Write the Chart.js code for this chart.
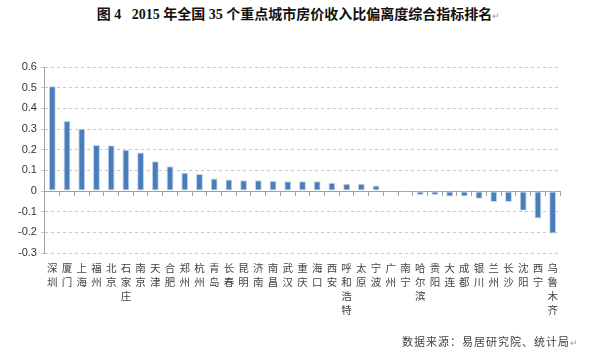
<!DOCTYPE html>
<html>
<head>
<meta charset="utf-8">
<script src="https://cdn.jsdelivr.net/npm/chart.js@4/dist/chart.umd.min.js"></script>
<style>
  html, body { margin: 0; padding: 0; background: #fff; }
  #wrap { position: relative; width: 589px; height: 354px; }
  #biaoti {
    position: absolute; left: 4px; top: 3px; width: 589px; text-align: center;
    font: bold 14px "Liberation Serif", "Noto Sans CJK SC", serif; color: #111;
  }
  #laiyuan {
    position: absolute; right: 10px; top: 333px;
    font: 11px "Noto Sans CJK SC", sans-serif; color: #444; letter-spacing: 1px;
  }
  .isaret { color: #999; font-size: 9px; font-weight: normal; }
  canvas { position: absolute; left: 0; top: 0; }
</style>
</head>
<body>
<div id="wrap">
  <div id="biaoti">图 4&nbsp;&nbsp;&nbsp;2015 年全国 35 个重点城市房价收入比偏离度综合指标排名<span class="isaret">↵</span></div>
  <canvas id="grafik" width="589" height="354"></canvas>
  <div id="laiyuan">数据来源：易居研究院、统计局<span class="isaret">↵</span></div>
</div>
<script>
// sehirler (kategori)
var sehirler = ['深圳', '厦门', '上海', '福州', '北京', '石家庄', '南京', '天津', '合肥', '郑州',
  '杭州', '青岛', '长春', '昆明', '济南', '南昌', '武汉', '重庆', '海口', '西安',
  '呼和浩特', '太原', '宁波', '广州', '南宁', '哈尔滨', '贵阳', '大连', '成都', '银川',
  '兰州', '长沙', '沈阳', '西宁', '乌鲁木齐'];

// sapma endeksi degerleri
var degerler = [0.507, 0.339, 0.301, 0.223, 0.222, 0.200, 0.187, 0.144, 0.120, 0.089,
  0.083, 0.061, 0.056, 0.052, 0.052, 0.049, 0.048, 0.048, 0.048, 0.040,
  0.035, 0.035, 0.027, -0.003, -0.006, -0.019, -0.019, -0.026, -0.026, -0.037,
  -0.053, -0.053, -0.095, -0.132, -0.205];

var yMin = -0.3;
var yMax = 0.6;
var yAdim = 0.1;

// dikey yazi: her karakter ayri satir
var etiketler = sehirler.map(function (s) { return s.split(''); });

var ctx = document.getElementById('grafik').getContext('2d');
var grafik = new Chart(ctx, {
  type: 'bar',
  data: {
    labels: etiketler,
    datasets: [{
      data: degerler,
      backgroundColor: '#4A7EBB',
      borderColor: '#C5D6EC',
      borderWidth: 1,
      borderSkipped: false,
      categoryPercentage: 0.9,
      barPercentage: 0.52,
      xAxisID: 'x'
    }]
  },
  options: {
    responsive: false,
    animation: false,
    layout: { padding: { left: 14, right: 29, top: 67, bottom: 37 } },
    plugins: { legend: { display: false }, tooltip: { enabled: false }, title: { display: false } },
    scales: {
      x: {
        position: 'bottom',
        grid: { display: false },
        border: { display: false },
        ticks: {
          autoSkip: false, maxRotation: 0, minRotation: 0, padding: 0,
          color: '#444', font: { size: 10.5, family: 'Noto Sans CJK SC', lineHeight: 1.33 }
        }
      },
      x2: {
        type: 'category',
        position: { y: 0 },
        grid: { drawOnChartArea: false, drawTicks: true, tickLength: 4, color: '#a0a0a0', offset: true },
        border: { display: true, color: '#a0a0a0' },
        ticks: { display: false }
      },
      y: {
        min: yMin,
        max: yMax,
        ticks: {
          stepSize: yAdim, padding: 4, color: '#333',
          font: { size: 11, family: 'Liberation Sans' },
          callback: function (v) { var r = Math.round(v * 10) / 10; return r === 0 ? '0' : r.toFixed(1); }
        },
        grid: { color: '#c8c8c8', tickLength: 4, drawTicks: true },
        border: { display: true, color: '#a0a0a0', dash: [3, 3] }
      }
    }
  }
});
</script>
</body>
</html>
